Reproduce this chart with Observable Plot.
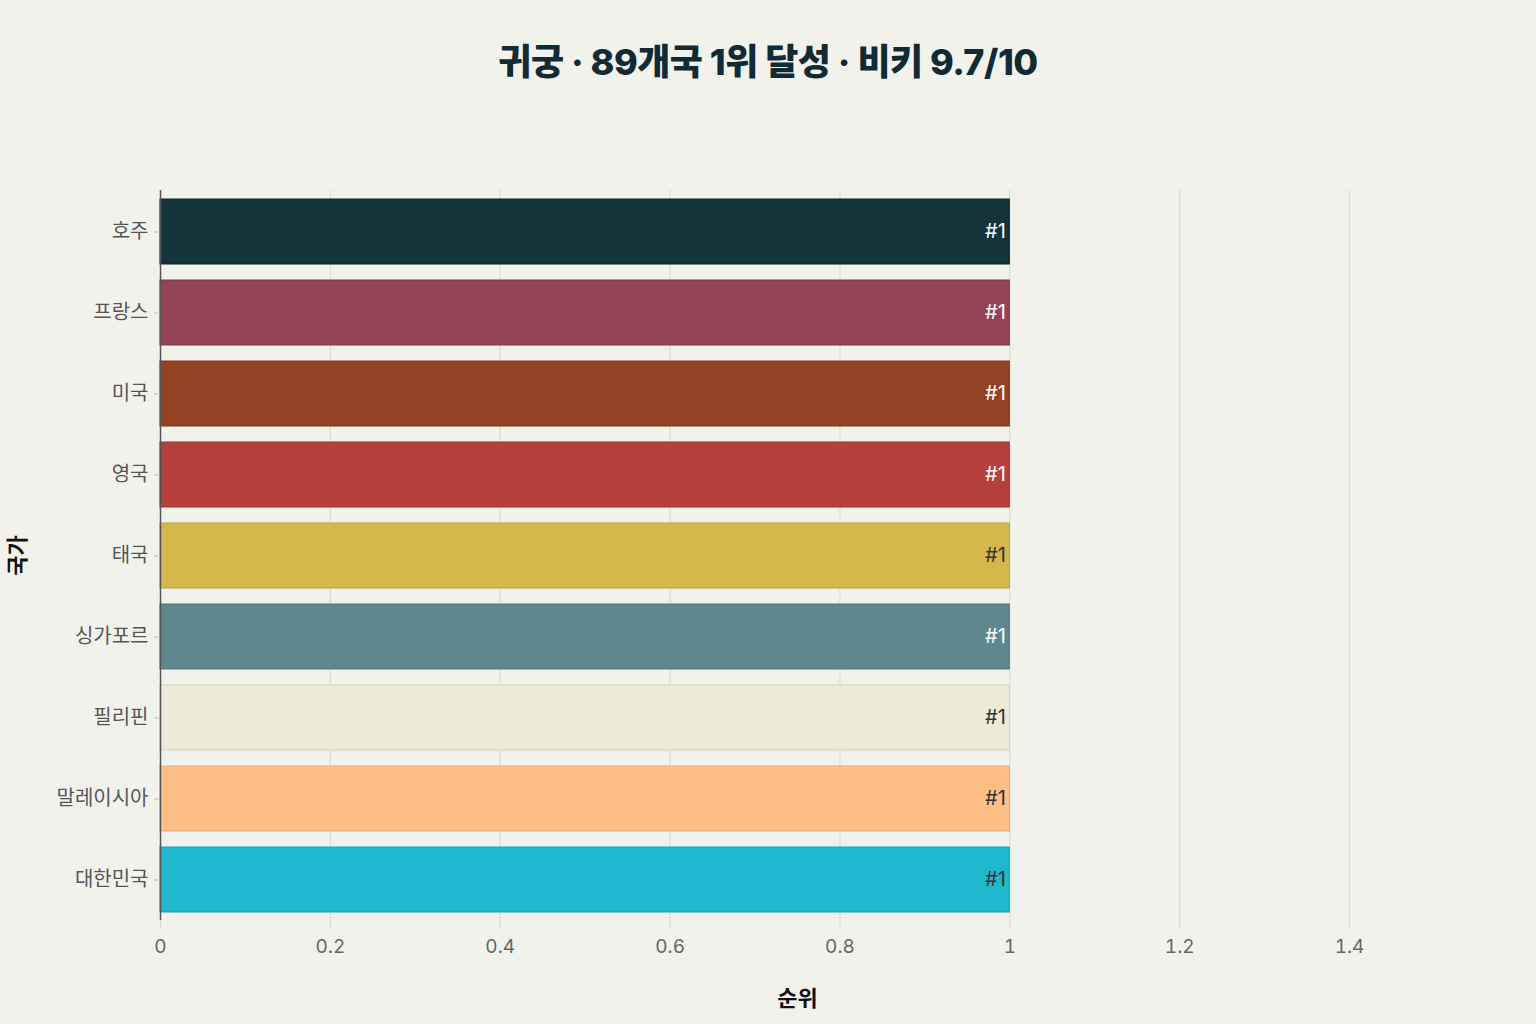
<!DOCTYPE html>
<html>
<head>
<meta charset="utf-8">
<script src="https://cdn.jsdelivr.net/npm/d3@7"></script>
<script src="https://cdn.jsdelivr.net/npm/@observablehq/plot@0.6"></script>
<style>
  html, body { margin: 0; padding: 0; background: #f2f2ed; }
  body { width: 1536px; height: 1024px; overflow: hidden; font-family: "Inter", "Noto Sans CJK KR", sans-serif; }
  #title { height: 120px; box-sizing: border-box; padding-top: 38px; text-align: center; font-size: 36px; font-weight: 800; color: #112a33; letter-spacing: -0.5px; line-height: 48px; font-family: "Inter", "Noto Sans CJK KR", sans-serif; }
  #chart svg { display: block; background: transparent; }
</style>
</head>
<body>
<div id="title">귀궁 · 89개국 1위 달성 · 비키 9.7/10</div>
<div id="chart"></div>
<script>
const countries = ["호주", "프랑스", "미국", "영국", "태국", "싱가포르", "필리핀", "말레이시아", "대한민국"];
const ranks = [1, 1, 1, 1, 1, 1, 1, 1, 1];
const rankLabels = ["#1", "#1", "#1", "#1", "#1", "#1", "#1", "#1", "#1"];
const barColors = ["#14343c", "#944455", "#944224", "#b5403c", "#d4b94a", "#5e888e", "#edebd7", "#ffc088", "#20b8cc"];
const barStrokes = ["#0c2228", "#7c3846", "#7a361c", "#9a3431", "#bba23e", "#4f757a", "#d5d2bd", "#e8aa78", "#1aa3b5"];
const labelColors = ["#ffffff", "#ffffff", "#ffffff", "#ffffff", "#333333", "#ffffff", "#333333", "#333333", "#333333"];
const xTicks = [0, 0.2, 0.4, 0.6, 0.8, 1, 1.2, 1.4];

const data = countries.map((c, i) => ({
  country: c, rank: ranks[i], label: rankLabels[i],
  color: barColors[i], stroke: barStrokes[i], labelColor: labelColors[i]
}));

const chart = Plot.plot({
  width: 1536,
  height: 904,
  marginLeft: 160,
  marginRight: 102,
  marginTop: 70,
  marginBottom: 104,
  style: { background: "transparent", fontFamily: "Inter, 'Noto Sans CJK KR', sans-serif" },
  x: { domain: [0, 1.5], label: null },
  y: { domain: countries, paddingInner: 0.2, paddingOuter: 0.1, label: null },
  marks: [
    Plot.ruleX(xTicks, { stroke: "#d9d9d3", strokeWidth: 1, y1: null, y2: null }),
    Plot.barX(data, { y: "country", x: "rank", fill: "color", stroke: "stroke", strokeWidth: 1 }),
    Plot.ruleX([0], { stroke: "#555555", strokeWidth: 1.5 }),
    Plot.text(data, { y: "country", x: "rank", text: "label", fill: "labelColor", textAnchor: "end", dx: -4, fontSize: 20 }),
    Plot.axisX({ ticks: xTicks, tickFormat: d => String(d), tickSize: 8, stroke: "#d9d9d3", fill: "#666666", fontSize: 19, tickPadding: 11, label: null }),
    Plot.axisY({ tickSize: 6, stroke: "#bbbbbb", fill: "#555555", fontSize: 20, tickPadding: 6, label: null }),
    Plot.text(["국가"], { frameAnchor: "left", textAnchor: "middle", lineAnchor: "middle", dx: -143, rotate: -90, fontSize: 22, fontWeight: 700, fill: "#111111" }),
    Plot.text(["순위"], { frameAnchor: "bottom", lineAnchor: "middle", dy: 78, fontSize: 22, fontWeight: 700, fill: "#111111" })
  ]
});
document.getElementById("chart").appendChild(chart);
</script>
</body>
</html>
